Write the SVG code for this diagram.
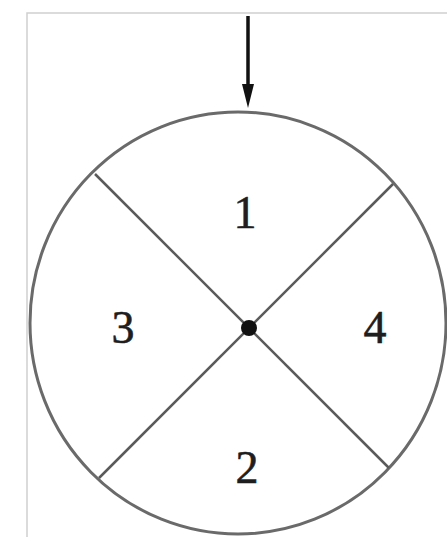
<svg xmlns="http://www.w3.org/2000/svg" width="447" height="537" viewBox="0 0 447 537">
<defs>
<style>
.frame{fill:none;stroke:#cfcfcf;stroke-width:1.5}
.rim{fill:none;stroke:#6a6a6a;stroke-width:3}
.div{stroke:#5a5a5a;stroke-width:2.5;fill:none}
.lbl{font-family:"Liberation Serif","Times New Roman",serif;font-size:46px;fill:#1e1e1e;stroke:#1e1e1e;stroke-width:0.6;text-anchor:middle}
</style>
</defs>
<rect class="frame" x="27" y="13" width="440" height="540"/>
<g id="wheel">
<ellipse class="rim" cx="238" cy="323" rx="208" ry="211"/>
</g>
<g id="connectors">
<line class="div" x1="95" y1="174" x2="389" y2="468"/>
<line class="div" x1="393" y1="184" x2="99" y2="478"/>
<line x1="248" y1="16" x2="248" y2="86" stroke="#111" stroke-width="3.5"/>
<path d="M242,84 L254,84 L248,108 Z" fill="#111"/>
</g>
<g id="center"><circle cx="249" cy="328" r="8" fill="#111"/></g>
<g id="sector1"><text class="lbl" x="245" y="228">1</text></g>
<g id="sector3"><text class="lbl" x="123" y="343">3</text></g>
<g id="sector4"><text class="lbl" x="375" y="343">4</text></g>
<g id="sector2"><text class="lbl" x="247" y="483">2</text></g>
</svg>
